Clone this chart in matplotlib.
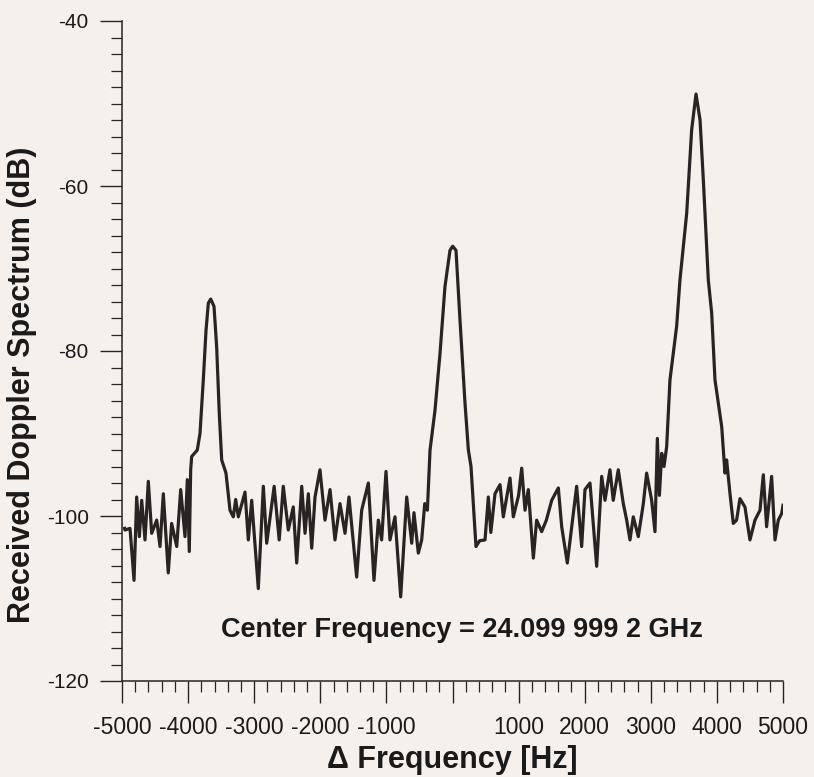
import matplotlib
matplotlib.use("Agg")
import matplotlib.pyplot as plt
from matplotlib.ticker import MultipleLocator, FixedLocator, FixedFormatter

plt.rcParams['font.family'] = ['Liberation Sans', 'DejaVu Sans']

# Δ frequency (Hz) and received level (dB)
freq_hz = [
    -4960, -4955, -4879, -4818, -4778, -4738, -4702, -4652, -4602, -4551,
    -4475, -4425, -4375, -4300, -4249, -4172, -4112, -4047, -4012, -3982,
    -3961, -3946, -3861, -3820, -3770, -3729, -3694, -3658, -3608, -3568,
    -3528, -3492, -3427, -3366, -3316, -3280, -3240, -3139, -3089, -3038,
    -2938, -2862, -2811, -2698, -2622, -2560, -2484, -2409, -2357, -2281,
    -2231, -2181, -2130, -2080, -2005, -1929, -1853, -1778, -1702, -1626,
    -1566, -1450, -1374, -1273, -1188, -1122, -1072, -1006, -946, -870,
    -784, -693, -617, -583, -517, -466, -420, -380, -340, -265,
    -189, -114, -38, 3, 53, 113, 189, 240, 280, 315,
    355, 410, 492, 542, 580, 643, 719, 769, 870, 920,
    1000, 1047, 1097, 1147, 1223, 1273, 1349, 1420, 1501, 1601,
    1652, 1737, 1803, 1878, 1954, 2004, 2080, 2181, 2257, 2307,
    2382, 2432, 2508, 2584, 2635, 2685, 2735, 2811, 2887, 2937,
    3013, 3063, 3099, 3130, 3165, 3200, 3240, 3290, 3391, 3441,
    3543, 3618, 3684, 3745, 3795, 3870, 3921, 3971, 4073, 4122,
    4147, 4198, 4248, 4298, 4349, 4424, 4500, 4576, 4652, 4702,
    4752, 4828, 4879, 4929, 4980, 5000,
]
level_db = [
    -101.5, -101.7, -101.5, -107.8, -97.7, -102.5, -98.1, -102.9, -95.8, -102.1,
    -100.5, -103.7, -97.3, -106.9, -100.9, -103.7, -96.8, -102.5, -95.6, -104.3,
    -94.4, -92.8, -92.0, -90.0, -83.5, -77.5, -74.2, -73.7, -74.6, -79.5,
    -87.6, -93.2, -94.8, -99.3, -100.1, -98.0, -100.1, -97.1, -102.9, -98.1,
    -108.8, -96.4, -103.3, -96.4, -102.9, -96.4, -101.7, -98.9, -105.7, -96.4,
    -102.1, -97.3, -103.9, -97.7, -94.4, -100.5, -96.8, -102.9, -98.5, -102.1,
    -97.7, -107.4, -99.3, -96.0, -107.8, -100.5, -102.9, -94.6, -102.9, -100.1,
    -109.8, -97.7, -103.3, -99.6, -104.5, -102.9, -98.5, -99.3, -92.0, -87.2,
    -80.3, -72.2, -67.8, -67.3, -67.8, -76.2, -86.3, -92.0, -94.0, -98.5,
    -103.7, -103.0, -102.9, -97.7, -102.0, -97.3, -96.2, -100.1, -95.4, -100.1,
    -97.5, -94.2, -99.3, -96.8, -105.1, -100.5, -101.9, -100.5, -98.1, -96.6,
    -101.3, -105.7, -101.3, -96.4, -103.7, -96.8, -96.0, -106.1, -95.2, -98.1,
    -94.4, -98.1, -94.4, -98.5, -100.5, -102.9, -100.1, -102.5, -98.5, -94.8,
    -98.1, -101.9, -90.6, -97.5, -92.4, -94.0, -91.6, -83.5, -77.0, -71.4,
    -63.3, -53.2, -48.85, -52.0, -59.3, -71.4, -75.4, -83.5, -89.2, -94.8,
    -93.2, -97.3, -100.9, -100.5, -97.9, -98.9, -102.9, -100.5, -99.3, -95.0,
    -101.3, -95.2, -102.9, -100.5, -99.7, -98.7,
]

x_major = [-5000, -4000, -3000, -2000, -1000, 0, 1000, 2000, 3000, 4000, 5000]
x_labels = ['-5000', '-4000', '-3000', '-2000', '-1000', '', '1000', '2000', '3000', '4000', '5000']
y_major = [-120, -100, -80, -60, -40]
y_labels = ['-120', '-100', '-80', '-60', '-40']

annotation = "Center Frequency = 24.099 999 2 GHz"
x_title = "\u0394 Frequency [Hz]"
y_title = "Received Doppler Spectrum (dB)"

bg = '#f6f0ed'
ink = '#2a2324'

fig = plt.figure(figsize=(8.14, 7.77), dpi=100, facecolor=bg)
ax = fig.add_axes([122/814, 1-681/777, (783-122)/814, (681-21)/777])
ax.set_facecolor(bg)

ax.plot(freq_hz, level_db, color=ink, lw=2.3, solid_joinstyle='round')

ax.set_xlim(-5000, 5000)
ax.set_ylim(-120, -40)

for s in ['top', 'right']:
    ax.spines[s].set_visible(False)
for s in ['left', 'bottom']:
    ax.spines[s].set_color(ink)
    ax.spines[s].set_linewidth(1.1)

ax.xaxis.set_major_locator(FixedLocator(x_major))
ax.xaxis.set_major_formatter(FixedFormatter(x_labels))
ax.xaxis.set_minor_locator(MultipleLocator(200))
ax.yaxis.set_major_locator(FixedLocator(y_major))
ax.yaxis.set_major_formatter(FixedFormatter(y_labels))
ax.yaxis.set_minor_locator(MultipleLocator(2))

ax.tick_params(axis='both', which='major', direction='out', length=16, width=1.0,
               color=ink, labelcolor='#1a1a1a')
ax.tick_params(axis='both', which='minor', direction='out', length=8, width=0.9, color=ink)
ax.tick_params(axis='y', which='major', pad=8, labelsize=15)
ax.tick_params(axis='x', which='major', pad=9, labelsize=16.5)

ax.text(150, -113.8, annotation, ha='center', va='center', fontsize=19.5,
        fontweight='bold', color='#1a1a1a')

fig.text(452/814, 1-760/777, x_title, ha='center', va='center', fontsize=22,
         fontweight='bold', color='#1a1a1a')
fig.text(22/814, 1-385/777, y_title, ha='center', va='center', rotation=90,
         fontsize=22, fontweight='bold', color='#1a1a1a')

fig.savefig('out.png', dpi=100, facecolor=bg)
